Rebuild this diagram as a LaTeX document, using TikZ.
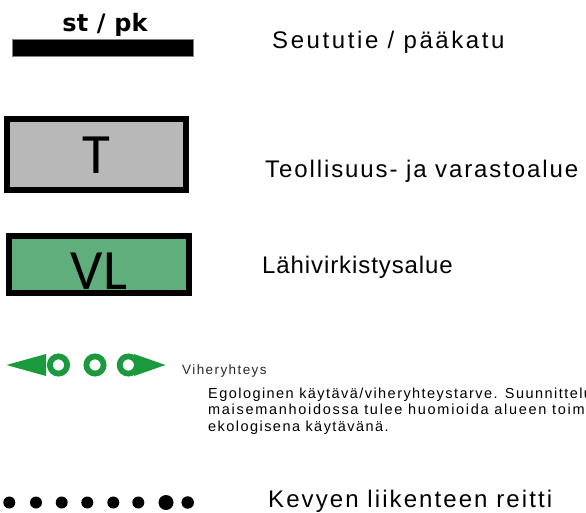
\documentclass[tikz,border=0pt]{standalone}
\usepackage{fontspec}
\setmainfont{Liberation Sans}
\newfontfamily\boldsans{DejaVu Sans}
\newfontfamily\calib{Carlito}
\definecolor{tgray}{RGB}{184,184,184}
\definecolor{vlgreen}{RGB}{96,174,124}
\definecolor{corr}{RGB}{26,154,60}
\definecolor{smalltxt}{RGB}{40,40,40}
\tikzset{
  lbl/.style={anchor=base west, inner sep=0pt, font=\fontsize{24}{28}\selectfont},
  boxlbl/.style={inner sep=0pt, font=\calib\fontsize{57}{60}\selectfont},
  areabox/.style={draw=black, line width=6pt, inner sep=0pt},
  small/.style={anchor=base west, inner sep=0pt, text=smalltxt, font=\fontsize{13.5}{16}\selectfont\addfontfeature{LetterSpace=10.5}},
  para/.style={anchor=base west, inner sep=0pt, text=black, font=\fontsize{14.5}{17}\selectfont\addfontfeature{LetterSpace=10}},
  rdot/.style={circle, fill=black, inner sep=0pt},
}
\begin{document}
\begin{tikzpicture}[x=1pt,y=-1pt]
\useasboundingbox (0,0) rectangle (586,513);
\clip (0,0) rectangle (586,513);
% Road legend
\node[anchor=base, inner sep=0pt, font=\boldsans\bfseries\fontsize{24}{26}\selectfont\addfontfeature{LetterSpace=1}] (stpk) at (105,32) {st / pk};
\node[fill=black, draw=gray, line width=0.8pt, minimum width=181pt, minimum height=17pt, inner sep=0pt] (bar) at (102.5,47.5) {};
\node[lbl, font=\fontsize{24}{28}\selectfont\addfontfeature{LetterSpace=10.8}] (road) at (272,49) {Seututie / pääkatu};
% T box
\node[areabox, fill=tgray, minimum width=178.5pt, minimum height=71.5pt] (tbox) at (96.25,154.75) {};
\node[boxlbl] (tlbl) at (96.5,155) {T};
\node[lbl, font=\fontsize{24}{28}\selectfont\addfontfeature{LetterSpace=7.9}] (tarea) at (265,178) {Teollisuus- ja varastoalue};
% VL box
\node[areabox, fill=vlgreen, minimum width=180pt, minimum height=57pt] (vlbox) at (99,264.5) {};
\node[boxlbl] (vllbl) at (99,271.5) {VL};
\node[lbl, font=\fontsize{24}{28}\selectfont\addfontfeature{LetterSpace=3.8}] (vlarea) at (262,273) {Lähivirkistysalue};
% green corridor symbol
\fill[corr] (6.5,365) -- (46,354) -- (46,376) -- cycle;
\draw[corr, line width=5.8pt] (58.5,365) circle (8.6);
\draw[corr, line width=5.8pt] (95,365) circle (8.6);
\draw[corr, line width=5.8pt] (128.3,365) circle (8.6);
\fill[corr] (165.5,365) -- (134,354) -- (134,376) -- cycle;
\node[small] (vih) at (182,374) {Viheryhteys};
\node[para] (p1) at (208,398) {Egologinen käytävä/viheryhteystarve. Suunnittelu};
\node[para, font=\fontsize{14.5}{17}\selectfont\addfontfeature{LetterSpace=11.7}] (p2) at (208,414.5) {maisemanhoidossa tulee huomioida alueen toim};
\node[para] (p3) at (208,431) {ekologisena käytävänä.};
% dotted route
\node[rdot, minimum size=12pt] (d1) at (9.3,502.5) {};
\node[rdot, minimum size=12pt] (d2) at (36,502.5) {};
\node[rdot, minimum size=12pt] (d3) at (61.7,502.5) {};
\node[rdot, minimum size=12pt] (d4) at (87.3,502.5) {};
\node[rdot, minimum size=12pt] (d5) at (113.3,502.5) {};
\node[rdot, minimum size=12pt] (d6) at (138.3,502.5) {};
\node[rdot, minimum size=15pt] (d7) at (166,502.5) {};
\node[rdot, minimum size=12.5pt] (d8) at (187.7,502.5) {};
\node[lbl, font=\fontsize{24}{28}\selectfont\addfontfeature{LetterSpace=8.7}] (kev) at (268,507) {Kevyen liikenteen reitti};
\end{tikzpicture}
\end{document}
